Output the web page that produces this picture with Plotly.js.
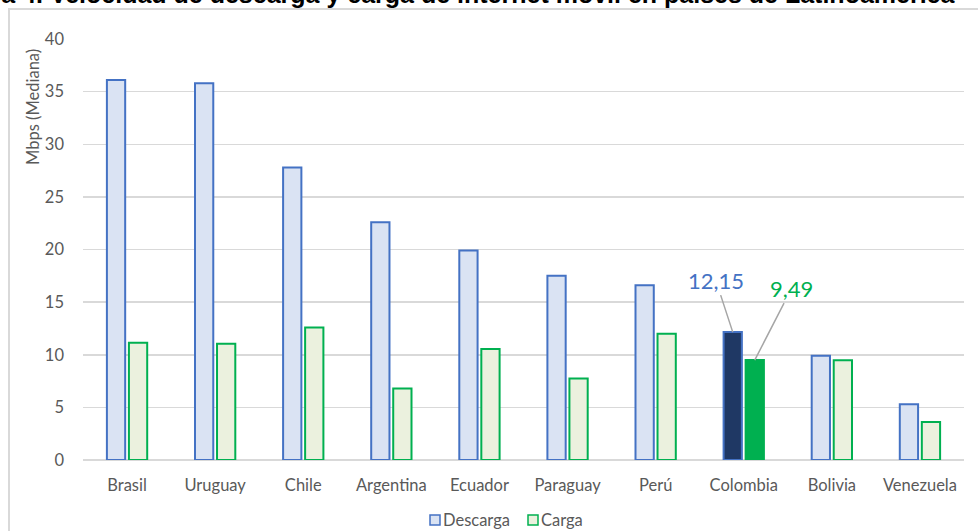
<!DOCTYPE html>
<html>
<head>
<meta charset="utf-8">
<script src="https://cdn.plot.ly/plotly-3.0.1.min.js"></script>
<style>
  html, body { margin: 0; padding: 0; background: #ffffff; }
  #chart { width: 978px; height: 531px; }
</style>
</head>
<body>
<div id="chart"></div>
<script>
// Mediana de velocidad de internet móvil (Mbps) por país
const paises = ['Brasil', 'Uruguay', 'Chile', 'Argentina', 'Ecuador', 'Paraguay', 'Perú', 'Colombia', 'Bolivia', 'Venezuela'];
const descarga = [36.1, 35.8, 27.8, 22.6, 19.9, 17.5, 16.6, 12.15, 9.9, 5.3];
const carga = [11.15, 11.05, 12.6, 6.8, 10.55, 7.75, 12.0, 9.49, 9.48, 3.6];
const nombresSeries = ['Descarga', 'Carga'];
const destacado = 'Colombia';
const yTicks = [0, 5, 10, 15, 20, 25, 30, 35, 40];
const titulo = 'Gráfica 4. Velocidad de descarga y carga de internet móvil en países de Latinoamérica';
const tituloEje = 'Mbps (Mediana)';

const W = 978, H = 531;
const M = { l: 83, r: 14, t: 39, b: 71 };
const pw = W - M.l - M.r, ph = H - M.t - M.b;
// pixel -> paper helpers for decorations outside the plot area
const px = x => (x - M.l) / pw;
const py = y => (H - M.b - y) / ph;

const gris = '#595959';
const fuente = 'Lato, "Open Sans", sans-serif';
const azul = '#4472c4', azulClaro = '#dae3f3', azulOscuro = '#1f3864';
const verde = '#00b050', verdeClaro = '#ebf1de';

const idx = paises.indexOf(destacado);
const colDesc = paises.map(p => p === destacado ? azulOscuro : azulClaro);
const colCarga = paises.map(p => p === destacado ? verde : verdeClaro);

const traces = [
  {
    type: 'bar', name: nombresSeries[0], x: paises, y: descarga,
    marker: { color: colDesc, line: { color: azul, width: 2 } },
    hoverinfo: 'x+y'
  },
  {
    type: 'bar', name: nombresSeries[1], x: paises, y: carga,
    marker: { color: colCarga, line: { color: verde, width: 2 } },
    hoverinfo: 'x+y'
  }
];

const fmt = v => String(v).replace('.', ',');

const annotations = [
  // title, running off the top edge of the canvas
  {
    text: '<b>' + titulo + '</b>', xref: 'paper', yref: 'paper',
    x: px(958), y: 1, xanchor: 'right', yanchor: 'bottom', yshift: 29,
    showarrow: false, font: { family: '"Liberation Sans", Arial, sans-serif', size: 25, color: '#000000' }
  },
  // y axis title
  {
    text: tituloEje, xref: 'paper', yref: 'paper', x: px(33), y: py(107),
    xanchor: 'center', yanchor: 'middle', textangle: -90, showarrow: false,
    font: { family: fuente, size: 16.5, color: gris }
  },
  // callouts for the highlighted country
  {
    text: fmt(descarga[idx]), x: destacado, y: descarga[idx], xref: 'x', yref: 'y',
    xshift: -11, showarrow: true, arrowhead: 0, arrowwidth: 1.5, arrowcolor: '#a6a6a6',
    ax: -17, ay: -52, font: { family: fuente, size: 22, color: azul }
  },
  {
    text: fmt(carga[idx]), x: destacado, y: carga[idx], xref: 'x', yref: 'y',
    xshift: 11, showarrow: true, arrowhead: 0, arrowwidth: 1.5, arrowcolor: '#a6a6a6',
    ax: 37, ay: -72, font: { family: fuente, size: 22, color: verde }
  },
  // legend labels
  {
    text: nombresSeries[0], xref: 'paper', yref: 'paper', x: px(441), y: py(520),
    xanchor: 'left', yanchor: 'middle', showarrow: false,
    font: { family: fuente, size: 16.5, color: gris }
  },
  {
    text: nombresSeries[1], xref: 'paper', yref: 'paper', x: px(539), y: py(520),
    xanchor: 'left', yanchor: 'middle', showarrow: false,
    font: { family: fuente, size: 16.5, color: gris }
  }
];

const shapes = [
  // outer frame
  {
    type: 'rect', xref: 'paper', yref: 'paper', layer: 'below',
    x0: px(9), x1: px(1010), y0: py(560), y1: py(9),
    line: { color: '#d9d9d9', width: 2 }, fillcolor: 'rgba(0,0,0,0)'
  },
  // legend swatches
  {
    type: 'rect', xref: 'paper', yref: 'paper',
    x0: px(430), x1: px(440), y0: py(525), y1: py(515),
    line: { color: azul, width: 1.5 }, fillcolor: azulClaro
  },
  {
    type: 'rect', xref: 'paper', yref: 'paper',
    x0: px(528), x1: px(538), y0: py(525), y1: py(515),
    line: { color: verde, width: 1.5 }, fillcolor: verdeClaro
  }
];

const layout = {
  width: W, height: H,
  margin: M,
  paper_bgcolor: '#ffffff', plot_bgcolor: '#ffffff',
  barmode: 'group', bargap: 0.5, bargroupgap: 0.17,
  showlegend: false,
  font: { family: fuente, color: gris },
  xaxis: {
    type: 'category', showgrid: false, zeroline: false, showline: false,
    ticks: '', tickfont: { family: fuente, size: 16.5, color: gris },
    ticklabelstandoff: 13, fixedrange: true
  },
  yaxis: {
    range: [0, 40], tickvals: yTicks, ticktext: yTicks.map(String),
    showgrid: true, gridcolor: '#d9d9d9', gridwidth: 1.5,
    zeroline: true, zerolinecolor: '#d9d9d9', zerolinewidth: 1.5,
    showline: false, ticks: '', tickfont: { family: fuente, size: 16.5, color: gris },
    ticklabelstandoff: 18, fixedrange: true
  },
  annotations: annotations,
  shapes: shapes
};

Plotly.newPlot('chart', traces, layout, { displayModeBar: false, staticPlot: true });
</script>
</body>
</html>
